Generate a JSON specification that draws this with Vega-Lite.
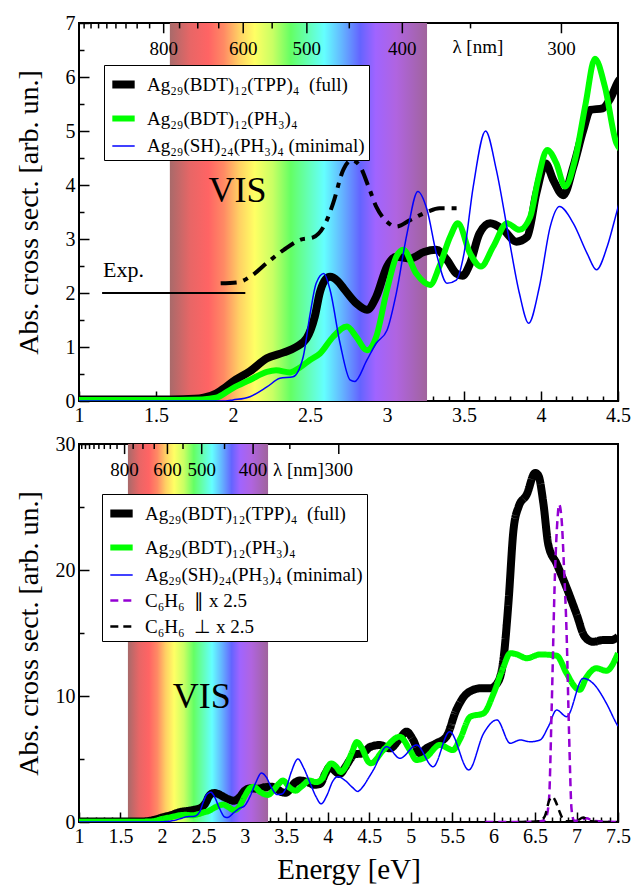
{
"$schema": "https://vega.github.io/schema/vega-lite/v6.json",
"padding": {"left": 14, "top": 12, "right": 5, "bottom": 5},
"spacing": 2,
"resolve": {"scale": {"color": "independent", "strokeWidth": "independent", "strokeDash": "independent"}, "legend": {"color": "independent", "strokeWidth": "independent", "strokeDash": "independent"}},
"config": {
 "font": "Liberation Serif",
 "view": {"stroke": "black", "strokeWidth": 2},
 "axis": {"labelFont": "Liberation Serif", "labelFontSize": 20, "labelColor": "black", "titleFont": "Liberation Serif", "titleFontWeight": "normal", "titleColor": "black", "tickColor": "black", "tickWidth": 1.5, "domain": false, "grid": false, "format": "~g", "labelOverlap": false, "labelFlush": false, "labelBound": false, "tickCount": 200},
 "legend": {"labelFont": "Liberation Serif", "labelFontSize": 19, "labelColor": "black", "labelLimit": 0, "strokeColor": "black", "fillColor": "white", "padding": 4, "rowPadding": 3, "symbolType": "stroke", "symbolSize": 500, "labelOffset": 8, "cornerRadius": 0}
},
"datasets": {
 "one": [{}],
 "curves": [
  {"s":"a_full","E":1.0,"v":0.03},{"s":"a_full","E":1.3,"v":0.03},{"s":"a_full","E":1.6,"v":0.03},{"s":"a_full","E":1.75,"v":0.04},{"s":"a_full","E":1.81,"v":0.06},{"s":"a_full","E":1.89,"v":0.14},{"s":"a_full","E":1.95,"v":0.25},{"s":"a_full","E":2.0,"v":0.36},{"s":"a_full","E":2.11,"v":0.55},{"s":"a_full","E":2.22,"v":0.79},{"s":"a_full","E":2.33,"v":0.9},{"s":"a_full","E":2.41,"v":1.0},{"s":"a_full","E":2.48,"v":1.17},{"s":"a_full","E":2.53,"v":1.55},{"s":"a_full","E":2.565,"v":2.02},{"s":"a_full","E":2.6,"v":2.25},{"s":"a_full","E":2.63,"v":2.3},{"s":"a_full","E":2.68,"v":2.22},{"s":"a_full","E":2.72,"v":2.08},{"s":"a_full","E":2.8,"v":1.81},{"s":"a_full","E":2.87,"v":1.69},{"s":"a_full","E":2.93,"v":1.93},{"s":"a_full","E":3.0,"v":2.49},{"s":"a_full","E":3.06,"v":2.67},{"s":"a_full","E":3.15,"v":2.64},{"s":"a_full","E":3.24,"v":2.76},{"s":"a_full","E":3.32,"v":2.8},{"s":"a_full","E":3.39,"v":2.61},{"s":"a_full","E":3.45,"v":2.36},{"s":"a_full","E":3.49,"v":2.32},{"s":"a_full","E":3.54,"v":2.55},{"s":"a_full","E":3.6,"v":3.1},{"s":"a_full","E":3.67,"v":3.29},{"s":"a_full","E":3.755,"v":3.17},{"s":"a_full","E":3.84,"v":2.95},{"s":"a_full","E":3.91,"v":3.04},{"s":"a_full","E":3.97,"v":3.85},{"s":"a_full","E":4.03,"v":4.4},{"s":"a_full","E":4.08,"v":4.09},{"s":"a_full","E":4.145,"v":3.81},{"s":"a_full","E":4.21,"v":4.34},{"s":"a_full","E":4.275,"v":5.02},{"s":"a_full","E":4.32,"v":5.39},{"s":"a_full","E":4.4,"v":5.42},{"s":"a_full","E":4.45,"v":5.6},{"s":"a_full","E":4.51,"v":5.95},{"s":"a_full","E":4.63,"v":6.11},{"s":"a_full","E":4.75,"v":5.85},{"s":"a_full","E":4.87,"v":6.64},{"s":"a_full","E":4.95,"v":7.17},{"s":"a_full","E":5.03,"v":6.51},{"s":"a_full","E":5.11,"v":5.45},{"s":"a_full","E":5.19,"v":5.85},{"s":"a_full","E":5.31,"v":6.25},{"s":"a_full","E":5.43,"v":6.77},{"s":"a_full","E":5.55,"v":8.89},{"s":"a_full","E":5.68,"v":10.21},{"s":"a_full","E":5.84,"v":10.61},{"s":"a_full","E":5.96,"v":10.61},{"s":"a_full","E":6.06,"v":11.2},{"s":"a_full","E":6.12,"v":13.0},{"s":"a_full","E":6.18,"v":17.5},{"s":"a_full","E":6.24,"v":23.2},{"s":"a_full","E":6.3,"v":25.0},{"s":"a_full","E":6.4,"v":26.0},{"s":"a_full","E":6.5,"v":27.7},{"s":"a_full","E":6.54,"v":27.5},{"s":"a_full","E":6.6,"v":25.3},{"s":"a_full","E":6.66,"v":22.0},{"s":"a_full","E":6.76,"v":20.5},{"s":"a_full","E":6.88,"v":18.6},{"s":"a_full","E":7.0,"v":16.5},{"s":"a_full","E":7.1,"v":14.7},{"s":"a_full","E":7.2,"v":14.3},{"s":"a_full","E":7.32,"v":14.44},{"s":"a_full","E":7.42,"v":14.44},{"s":"a_full","E":7.5,"v":14.7},
  {"s":"b_bdt","E":1.0,"v":0.02},{"s":"b_bdt","E":1.5,"v":0.02},{"s":"b_bdt","E":1.8,"v":0.03},{"s":"b_bdt","E":1.89,"v":0.06},{"s":"b_bdt","E":2.0,"v":0.24},{"s":"b_bdt","E":2.11,"v":0.39},{"s":"b_bdt","E":2.22,"v":0.54},{"s":"b_bdt","E":2.28,"v":0.57},{"s":"b_bdt","E":2.37,"v":0.53},{"s":"b_bdt","E":2.435,"v":0.62},{"s":"b_bdt","E":2.5,"v":0.76},{"s":"b_bdt","E":2.565,"v":0.88},{"s":"b_bdt","E":2.65,"v":1.19},{"s":"b_bdt","E":2.74,"v":1.38},{"s":"b_bdt","E":2.8,"v":1.19},{"s":"b_bdt","E":2.87,"v":0.94},{"s":"b_bdt","E":2.93,"v":1.19},{"s":"b_bdt","E":3.0,"v":2.06},{"s":"b_bdt","E":3.06,"v":2.67},{"s":"b_bdt","E":3.106,"v":2.8},{"s":"b_bdt","E":3.19,"v":2.36},{"s":"b_bdt","E":3.28,"v":2.15},{"s":"b_bdt","E":3.34,"v":2.49},{"s":"b_bdt","E":3.41,"v":3.04},{"s":"b_bdt","E":3.46,"v":3.29},{"s":"b_bdt","E":3.54,"v":2.73},{"s":"b_bdt","E":3.61,"v":2.49},{"s":"b_bdt","E":3.69,"v":2.86},{"s":"b_bdt","E":3.78,"v":3.29},{"s":"b_bdt","E":3.86,"v":3.17},{"s":"b_bdt","E":3.93,"v":3.41},{"s":"b_bdt","E":3.98,"v":4.09},{"s":"b_bdt","E":4.04,"v":4.65},{"s":"b_bdt","E":4.1,"v":4.4},{"s":"b_bdt","E":4.156,"v":3.97},{"s":"b_bdt","E":4.22,"v":4.46},{"s":"b_bdt","E":4.29,"v":5.51},{"s":"b_bdt","E":4.35,"v":6.34},{"s":"b_bdt","E":4.415,"v":5.82},{"s":"b_bdt","E":4.49,"v":4.77},{"s":"b_bdt","E":4.52,"v":4.66},{"s":"b_bdt","E":4.67,"v":5.71},{"s":"b_bdt","E":4.87,"v":6.77},{"s":"b_bdt","E":4.99,"v":5.71},{"s":"b_bdt","E":5.07,"v":4.92},{"s":"b_bdt","E":5.19,"v":5.18},{"s":"b_bdt","E":5.35,"v":6.11},{"s":"b_bdt","E":5.51,"v":5.71},{"s":"b_bdt","E":5.59,"v":6.51},{"s":"b_bdt","E":5.72,"v":8.36},{"s":"b_bdt","E":5.88,"v":8.63},{"s":"b_bdt","E":6.0,"v":10.21},{"s":"b_bdt","E":6.12,"v":12.33},{"s":"b_bdt","E":6.2,"v":13.4},{"s":"b_bdt","E":6.28,"v":13.3},{"s":"b_bdt","E":6.4,"v":13.0},{"s":"b_bdt","E":6.56,"v":13.3},{"s":"b_bdt","E":6.76,"v":13.2},{"s":"b_bdt","E":6.88,"v":11.8},{"s":"b_bdt","E":7.0,"v":10.6},{"s":"b_bdt","E":7.04,"v":10.5},{"s":"b_bdt","E":7.12,"v":11.5},{"s":"b_bdt","E":7.24,"v":12.2},{"s":"b_bdt","E":7.36,"v":12.0},{"s":"b_bdt","E":7.5,"v":13.4},
  {"s":"c_min","E":1.0,"v":0.0},{"s":"c_min","E":1.95,"v":0.0},{"s":"c_min","E":2.0,"v":0.02},{"s":"c_min","E":2.11,"v":0.08},{"s":"c_min","E":2.22,"v":0.26},{"s":"c_min","E":2.305,"v":0.42},{"s":"c_min","E":2.39,"v":0.45},{"s":"c_min","E":2.456,"v":0.82},{"s":"c_min","E":2.5,"v":1.6},{"s":"c_min","E":2.54,"v":2.18},{"s":"c_min","E":2.59,"v":2.36},{"s":"c_min","E":2.63,"v":2.06},{"s":"c_min","E":2.695,"v":1.07},{"s":"c_min","E":2.76,"v":0.39},{"s":"c_min","E":2.79,"v":0.36},{"s":"c_min","E":2.87,"v":0.76},{"s":"c_min","E":2.93,"v":1.07},{"s":"c_min","E":3.0,"v":1.31},{"s":"c_min","E":3.06,"v":1.99},{"s":"c_min","E":3.13,"v":3.1},{"s":"c_min","E":3.2,"v":3.88},{"s":"c_min","E":3.26,"v":3.54},{"s":"c_min","E":3.32,"v":2.74},{"s":"c_min","E":3.39,"v":2.18},{"s":"c_min","E":3.45,"v":2.24},{"s":"c_min","E":3.5,"v":2.73},{"s":"c_min","E":3.56,"v":3.97},{"s":"c_min","E":3.64,"v":5.0},{"s":"c_min","E":3.71,"v":4.28},{"s":"c_min","E":3.79,"v":3.04},{"s":"c_min","E":3.86,"v":1.99},{"s":"c_min","E":3.92,"v":1.44},{"s":"c_min","E":3.99,"v":2.12},{"s":"c_min","E":4.06,"v":3.23},{"s":"c_min","E":4.12,"v":3.6},{"s":"c_min","E":4.21,"v":3.29},{"s":"c_min","E":4.3,"v":2.73},{"s":"c_min","E":4.36,"v":2.43},{"s":"c_min","E":4.43,"v":2.86},{"s":"c_min","E":4.49,"v":3.48},{"s":"c_min","E":4.55,"v":4.13},{"s":"c_min","E":4.71,"v":5.98},{"s":"c_min","E":4.87,"v":5.05},{"s":"c_min","E":5.07,"v":6.11},{"s":"c_min","E":5.27,"v":4.39},{"s":"c_min","E":5.47,"v":7.17},{"s":"c_min","E":5.7,"v":4.13},{"s":"c_min","E":5.88,"v":7.04},{"s":"c_min","E":6.04,"v":8.1},{"s":"c_min","E":6.2,"v":6.25},{"s":"c_min","E":6.32,"v":6.51},{"s":"c_min","E":6.44,"v":6.37},{"s":"c_min","E":6.56,"v":6.51},{"s":"c_min","E":6.66,"v":7.57},{"s":"c_min","E":6.76,"v":8.89},{"s":"c_min","E":6.88,"v":8.36},{"s":"c_min","E":7.08,"v":11.4},{"s":"c_min","E":7.2,"v":11.0},{"s":"c_min","E":7.36,"v":9.42},{"s":"c_min","E":7.48,"v":7.83},{"s":"c_min","E":7.5,"v":7.6},
  {"s":"d_par","E":5.9,"v":0.0},{"s":"d_par","E":6.4,"v":0.0},{"s":"d_par","E":6.6,"v":0.1},{"s":"d_par","E":6.64,"v":0.5},{"s":"d_par","E":6.67,"v":2.0},{"s":"d_par","E":6.7,"v":9.0},{"s":"d_par","E":6.74,"v":19.7},{"s":"d_par","E":6.77,"v":24.0},{"s":"d_par","E":6.79,"v":25.2},{"s":"d_par","E":6.82,"v":24.0},{"s":"d_par","E":6.85,"v":20.0},{"s":"d_par","E":6.88,"v":15.0},{"s":"d_par","E":6.91,"v":7.0},{"s":"d_par","E":6.94,"v":1.0},{"s":"d_par","E":6.97,"v":0.1},{"s":"d_par","E":7.05,"v":0.15},{"s":"d_par","E":7.12,"v":0.3},{"s":"d_par","E":7.2,"v":0.1},{"s":"d_par","E":7.5,"v":0.0},
  {"s":"e_perp","E":6.3,"v":0.0},{"s":"e_perp","E":6.55,"v":0.05},{"s":"e_perp","E":6.62,"v":0.5},{"s":"e_perp","E":6.67,"v":1.7},{"s":"e_perp","E":6.71,"v":2.0},{"s":"e_perp","E":6.75,"v":1.6},{"s":"e_perp","E":6.79,"v":0.9},{"s":"e_perp","E":6.83,"v":0.3},{"s":"e_perp","E":6.88,"v":0.05},{"s":"e_perp","E":7.0,"v":0.1},{"s":"e_perp","E":7.08,"v":0.35},{"s":"e_perp","E":7.15,"v":0.1},{"s":"e_perp","E":7.3,"v":0.0},{"s":"e_perp","E":7.5,"v":0.0},
  {"s":"x_exp","E":1.92,"v":2.18},{"s":"x_exp","E":2.035,"v":2.2},{"s":"x_exp","E":2.11,"v":2.3},{"s":"x_exp","E":2.23,"v":2.58},{"s":"x_exp","E":2.33,"v":2.8},{"s":"x_exp","E":2.44,"v":2.99},{"s":"x_exp","E":2.52,"v":3.03},{"s":"x_exp","E":2.6,"v":3.29},{"s":"x_exp","E":2.65,"v":3.66},{"s":"x_exp","E":2.716,"v":4.28},{"s":"x_exp","E":2.77,"v":4.46},{"s":"x_exp","E":2.82,"v":4.37},{"s":"x_exp","E":2.88,"v":3.97},{"s":"x_exp","E":2.93,"v":3.6},{"s":"x_exp","E":3.0,"v":3.32},{"s":"x_exp","E":3.06,"v":3.23},{"s":"x_exp","E":3.15,"v":3.35},{"s":"x_exp","E":3.26,"v":3.5},{"s":"x_exp","E":3.34,"v":3.57},{"s":"x_exp","E":3.46,"v":3.57},
  {"s":"x_base","E":1.15,"v":2.0},{"s":"x_base","E":2.08,"v":2.0}
 ],
 "wl": [
  {"lam":1200,"E":1.0332,"major":0},{"lam":1150,"E":1.0781,"major":0},{"lam":1100,"E":1.1271,"major":0},{"lam":1050,"E":1.1808,"major":0},{"lam":1000,"E":1.2398,"major":0},{"lam":950,"E":1.3051,"major":0},{"lam":900,"E":1.3776,"major":0},{"lam":850,"E":1.4586,"major":0},{"lam":800,"E":1.5498,"major":1},{"lam":750,"E":1.6531,"major":0},{"lam":700,"E":1.7712,"major":0},{"lam":650,"E":1.9074,"major":0},{"lam":600,"E":2.0664,"major":1},{"lam":550,"E":2.2543,"major":0},{"lam":500,"E":2.4797,"major":1},{"lam":450,"E":2.7552,"major":0},{"lam":400,"E":3.0996,"major":1},{"lam":350,"E":3.5424,"major":0},{"lam":300,"E":4.1328,"major":1}
 ]
},
"vconcat": [
 {
  "width": 539, "height": 378,
  "layer": [
   {"data": {"name": "one"}, "mark": {"type": "rect", "color": {"gradient": "linear", "x1": 0, "x2": 1, "y1": 0, "y2": 0, "stops": [{"offset": 0, "color": "#a86a6a"}, {"offset": 0.08, "color": "#e86666"}, {"offset": 0.15, "color": "#ff6464"}, {"offset": 0.21, "color": "#ff8a64"}, {"offset": 0.27, "color": "#ffd064"}, {"offset": 0.33, "color": "#ffff64"}, {"offset": 0.4, "color": "#c8ff64"}, {"offset": 0.47, "color": "#64ff64"}, {"offset": 0.56, "color": "#64ffd0"}, {"offset": 0.6, "color": "#64ffff"}, {"offset": 0.67, "color": "#64b4ff"}, {"offset": 0.74, "color": "#6464ff"}, {"offset": 0.8, "color": "#a064ff"}, {"offset": 0.88, "color": "#b064e0"}, {"offset": 1, "color": "#a0649c"}]}},
    "encoding": {"x": {"datum": 1.59, "type": "quantitative"}, "x2": {"datum": 3.26}, "y": {"datum": 0, "type": "quantitative"}, "y2": {"datum": 7}}},
   {"data": {"name": "wl"}, "transform": [{"filter": "datum.major == 0"}], "mark": {"type": "rule", "color": "black", "strokeWidth": 1.5},
    "encoding": {"x": {"field": "E", "type": "quantitative"}, "y": {"datum": 7, "type": "quantitative"}, "y2": {"datum": 6.9}}},
   {"data": {"name": "wl"}, "transform": [{"filter": "datum.major == 1"}], "mark": {"type": "rule", "color": "black", "strokeWidth": 1.5},
    "encoding": {"x": {"field": "E", "type": "quantitative"}, "y": {"datum": 7, "type": "quantitative"}, "y2": {"datum": 6.81}}},
   {"data": {"name": "wl"}, "transform": [{"filter": "datum.major == 1"}], "mark": {"type": "text", "fontSize": 19, "baseline": "middle", "align": "center", "color": "black"},
    "encoding": {"x": {"field": "E", "type": "quantitative"}, "y": {"datum": 6.52, "type": "quantitative"}, "text": {"field": "lam"}}},
   {"data": {"name": "one"}, "mark": {"type": "text", "text": "λ [nm]", "fontSize": 19, "baseline": "middle", "align": "center", "color": "black"},
    "encoding": {"x": {"datum": 3.59, "type": "quantitative"}, "y": {"datum": 6.55, "type": "quantitative"}}},
   {"data": {"name": "one"}, "mark": {"type": "text", "text": "VIS", "fontSize": 36, "baseline": "alphabetic", "align": "center", "color": "black"},
    "encoding": {"x": {"datum": 2.03, "type": "quantitative"}, "y": {"datum": 3.69, "type": "quantitative"}}},
   {"data": {"name": "one"}, "mark": {"type": "text", "text": "Exp.", "fontSize": 22, "baseline": "alphabetic", "align": "left", "color": "black"},
    "encoding": {"x": {"datum": 1.156, "type": "quantitative"}, "y": {"datum": 2.3, "type": "quantitative"}}},
   {"data": {"name": "curves"}, "transform": [{"filter": "datum.s == 'x_base'"}], "mark": {"type": "line", "color": "black", "strokeWidth": 1.8},
    "encoding": {"x": {"field": "E", "type": "quantitative"}, "y": {"field": "v", "type": "quantitative"}}},
   {"data": {"name": "curves"}, "transform": [{"filter": "datum.s == 'x_exp'"}], "mark": {"type": "line", "color": "black", "strokeWidth": 4, "strokeDash": [16, 7, 5, 7], "interpolate": "monotone"},
    "encoding": {"x": {"field": "E", "type": "quantitative"}, "y": {"field": "v", "type": "quantitative"}}},
   {"data": {"name": "curves"}, "transform": [{"filter": "indexof(['a_full','b_bdt','c_min'], datum.s) >= 0"}],
    "mark": {"type": "line", "interpolate": "monotone", "clip": true},
    "encoding": {
     "x": {"field": "E", "type": "quantitative", "title": null, "scale": {"domain": [1, 4.5], "nice": false, "zero": false},
       "axis": {"values": [1,1.1,1.2,1.3,1.4,1.5,1.6,1.7,1.8,1.9,2,2.1,2.2,2.3,2.4,2.5,2.6,2.7,2.8,2.9,3,3.1,3.2,3.3,3.4,3.5,3.6,3.7,3.8,3.9,4,4.1,4.2,4.3,4.4,4.5], "tickCount": 200, "labelExpr": "abs(datum.value*2 - round(datum.value*2)) < 0.01 ? format(datum.value, '~g') : ''", "tickSize": {"condition": {"test": "abs(datum.value*2 - round(datum.value*2)) < 0.01", "value": -10}, "value": -5}, "labelPadding": 14, "labelOverlap": false}},
     "y": {"field": "v", "type": "quantitative", "title": "Abs. cross sect. [arb. un.]", "scale": {"domain": [0, 7], "nice": false, "zero": false},
       "axis": {"values": [0,0.5,1,1.5,2,2.5,3,3.5,4,4.5,5,5.5,6,6.5,7], "tickCount": 200, "labelExpr": "datum.value % 1 == 0 ? format(datum.value, '~g') : ''", "tickSize": {"condition": {"test": "datum.value % 1 == 0", "value": -10}, "value": -5}, "labelPadding": 14, "labelOverlap": false, "titleFontSize": 28, "titlePadding": 22}},
     "color": {"field": "s", "type": "nominal", "scale": {"domain": ["a_full","b_bdt","c_min"], "range": ["black","#00ff00","#0000ff"]},
       "legend": {"title": null, "orient": "none", "legendX": 25, "legendY": 42, "labelExpr": "datum.label == 'a_full' ? 'Ag₂₉(BDT)₁₂(TPP)₄ \u00a0(full)' : datum.label == 'b_bdt' ? 'Ag₂₉(BDT)₁₂(PH₃)₄' : 'Ag₂₉(SH)₂₄(PH₃)₄ (minimal)'"}},
     "strokeWidth": {"field": "s", "type": "ordinal", "scale": {"type": "ordinal", "domain": ["a_full","b_bdt","c_min"], "range": [8, 6, 1.5]},
       "legend": {"title": null, "orient": "none", "legendX": 25, "legendY": 42, "labelExpr": "datum.label == 'a_full' ? 'Ag₂₉(BDT)₁₂(TPP)₄ \u00a0(full)' : datum.label == 'b_bdt' ? 'Ag₂₉(BDT)₁₂(PH₃)₄' : 'Ag₂₉(SH)₂₄(PH₃)₄ (minimal)'"}}
    }}
  ]
 },
 {
  "width": 539, "height": 378,
  "layer": [
   {"data": {"name": "one"}, "mark": {"type": "rect", "color": {"gradient": "linear", "x1": 0, "x2": 1, "y1": 0, "y2": 0, "stops": [{"offset": 0, "color": "#a86a6a"}, {"offset": 0.08, "color": "#e86666"}, {"offset": 0.15, "color": "#ff6464"}, {"offset": 0.21, "color": "#ff8a64"}, {"offset": 0.27, "color": "#ffd064"}, {"offset": 0.33, "color": "#ffff64"}, {"offset": 0.4, "color": "#c8ff64"}, {"offset": 0.47, "color": "#64ff64"}, {"offset": 0.56, "color": "#64ffd0"}, {"offset": 0.6, "color": "#64ffff"}, {"offset": 0.67, "color": "#64b4ff"}, {"offset": 0.74, "color": "#6464ff"}, {"offset": 0.8, "color": "#a064ff"}, {"offset": 0.88, "color": "#b064e0"}, {"offset": 1, "color": "#a0649c"}]}},
    "encoding": {"x": {"datum": 1.59, "type": "quantitative"}, "x2": {"datum": 3.28}, "y": {"datum": 0, "type": "quantitative"}, "y2": {"datum": 30}}},
   {"data": {"name": "wl"}, "transform": [{"filter": "datum.major == 0"}], "mark": {"type": "rule", "color": "black", "strokeWidth": 1.5},
    "encoding": {"x": {"field": "E", "type": "quantitative"}, "y": {"datum": 30, "type": "quantitative"}, "y2": {"datum": 29.6}}},
   {"data": {"name": "wl"}, "transform": [{"filter": "datum.major == 1"}], "mark": {"type": "rule", "color": "black", "strokeWidth": 1.5},
    "encoding": {"x": {"field": "E", "type": "quantitative"}, "y": {"datum": 30, "type": "quantitative"}, "y2": {"datum": 29.2}}},
   {"data": {"name": "wl"}, "transform": [{"filter": "datum.major == 1"}], "mark": {"type": "text", "fontSize": 19, "baseline": "middle", "align": "center", "color": "black"},
    "encoding": {"x": {"field": "E", "type": "quantitative"}, "y": {"datum": 27.9, "type": "quantitative"}, "text": {"field": "lam"}}},
   {"data": {"name": "one"}, "mark": {"type": "text", "text": "λ [nm]", "fontSize": 19, "baseline": "middle", "align": "left", "color": "black"},
    "encoding": {"x": {"datum": 3.34, "type": "quantitative"}, "y": {"datum": 27.9, "type": "quantitative"}}},
   {"data": {"name": "one"}, "mark": {"type": "text", "text": "VIS", "fontSize": 36, "baseline": "alphabetic", "align": "center", "color": "black"},
    "encoding": {"x": {"datum": 2.48, "type": "quantitative"}, "y": {"datum": 9.05, "type": "quantitative"}}},
   {"data": {"name": "curves"}, "transform": [{"filter": "indexof(['a_full','b_bdt','c_min','d_par','e_perp'], datum.s) >= 0"}],
    "mark": {"type": "line", "interpolate": "monotone", "clip": true},
    "encoding": {
     "x": {"field": "E", "type": "quantitative", "title": "Energy [eV]", "scale": {"domain": [1, 7.5], "nice": false, "zero": false},
       "axis": {"values": [1,1.1,1.2,1.3,1.4,1.5,1.6,1.7,1.8,1.9,2,2.1,2.2,2.3,2.4,2.5,2.6,2.7,2.8,2.9,3,3.1,3.2,3.3,3.4,3.5,3.6,3.7,3.8,3.9,4,4.1,4.2,4.3,4.4,4.5,4.6,4.7,4.8,4.9,5,5.1,5.2,5.3,5.4,5.5,5.6,5.7,5.8,5.9,6,6.1,6.2,6.3,6.4,6.5,6.6,6.7,6.8,6.9,7,7.1,7.2,7.3,7.4,7.5], "tickCount": 200, "labelExpr": "abs(datum.value*2 - round(datum.value*2)) < 0.01 ? format(datum.value, '~g') : ''", "tickSize": {"condition": {"test": "abs(datum.value*2 - round(datum.value*2)) < 0.01", "value": -10}, "value": -5}, "labelPadding": 14, "labelOverlap": false, "titleFontSize": 29, "titlePadding": 4}},
     "y": {"field": "v", "type": "quantitative", "title": "Abs. cross sect. [arb. un.]", "scale": {"domain": [0, 30], "nice": false, "zero": false},
       "axis": {"values": [0,5,10,15,20,25,30], "tickCount": 200, "labelExpr": "datum.value % 10 == 0 ? format(datum.value, '~g') : ''", "tickSize": {"condition": {"test": "datum.value % 10 == 0", "value": -10}, "value": -5}, "labelPadding": 14, "labelOverlap": false, "titleFontSize": 28, "titlePadding": 12}},
     "color": {"field": "s", "type": "nominal", "scale": {"domain": ["a_full","b_bdt","c_min","d_par","e_perp"], "range": ["black","#00ff00","#0000ff","#9400d3","black"]},
       "legend": {"title": null, "orient": "none", "legendX": 23, "legendY": 50, "labelExpr": "datum.label == 'a_full' ? 'Ag₂₉(BDT)₁₂(TPP)₄ \u00a0(full)' : datum.label == 'b_bdt' ? 'Ag₂₉(BDT)₁₂(PH₃)₄' : datum.label == 'c_min' ? 'Ag₂₉(SH)₂₄(PH₃)₄ (minimal)' : datum.label == 'd_par' ? 'C₆H₆ \u00a0∥ x 2.5' : 'C₆H₆ \u00a0⊥ x 2.5'"}},
     "strokeWidth": {"field": "s", "type": "ordinal", "scale": {"type": "ordinal", "domain": ["a_full","b_bdt","c_min","d_par","e_perp"], "range": [8, 6, 1.5, 2.5, 2.5]},
       "legend": {"title": null, "orient": "none", "legendX": 23, "legendY": 50, "labelExpr": "datum.label == 'a_full' ? 'Ag₂₉(BDT)₁₂(TPP)₄ \u00a0(full)' : datum.label == 'b_bdt' ? 'Ag₂₉(BDT)₁₂(PH₃)₄' : datum.label == 'c_min' ? 'Ag₂₉(SH)₂₄(PH₃)₄ (minimal)' : datum.label == 'd_par' ? 'C₆H₆ \u00a0∥ x 2.5' : 'C₆H₆ \u00a0⊥ x 2.5'"}},
     "strokeDash": {"field": "s", "type": "nominal", "scale": {"domain": ["a_full","b_bdt","c_min","d_par","e_perp"], "range": [[1, 0], [1, 0], [1, 0], [8, 5], [8, 5]]},
       "legend": {"title": null, "orient": "none", "legendX": 23, "legendY": 50, "labelExpr": "datum.label == 'a_full' ? 'Ag₂₉(BDT)₁₂(TPP)₄ \u00a0(full)' : datum.label == 'b_bdt' ? 'Ag₂₉(BDT)₁₂(PH₃)₄' : datum.label == 'c_min' ? 'Ag₂₉(SH)₂₄(PH₃)₄ (minimal)' : datum.label == 'd_par' ? 'C₆H₆ \u00a0∥ x 2.5' : 'C₆H₆ \u00a0⊥ x 2.5'"}}
    }}
  ]
 }
]
}
